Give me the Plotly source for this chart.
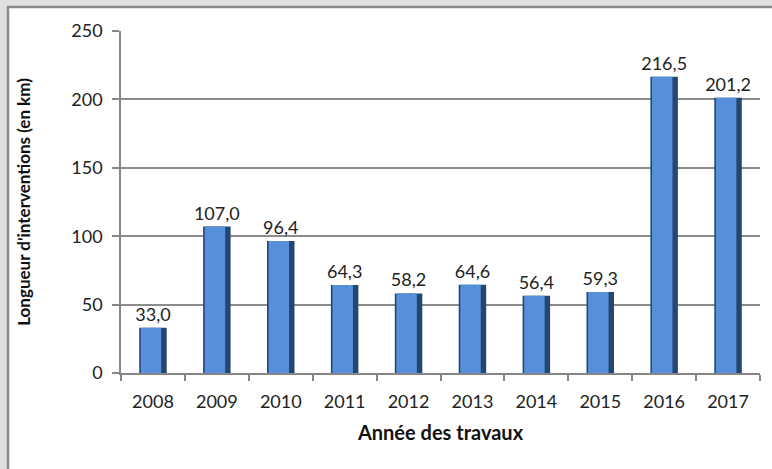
import plotly.graph_objects as go

years = ["2008", "2009", "2010", "2011", "2012", "2013", "2014", "2015", "2016", "2017"]
lengths_km = [33.0, 107.0, 96.4, 64.3, 58.2, 64.6, 56.4, 59.3, 216.5, 201.2]
labels = [f"{v:.1f}".replace(".", ",") for v in lengths_km]

W, H = 772, 469
L, R, T, B = 121, 12, 31, 96
pw, ph = W - L - R, H - T - B

FONT = "Lato, 'Open Sans', sans-serif"

fig = go.Figure()
# dark body of each bar (edges)
fig.add_trace(go.Bar(
    x=years, y=lengths_km, width=0.43, offset=-0.215,
    marker=dict(color="#25466f", line=dict(width=0)),
    text=labels, textposition="outside", cliponaxis=False, constraintext="none",
    textfont=dict(family=FONT, size=18, color="#222222"),
    hoverinfo="skip", showlegend=False,
))
# lighter face
fig.add_trace(go.Bar(
    x=years, y=lengths_km, width=0.32, offset=-0.19,
    marker=dict(color="#5690da", line=dict(width=0)),
    hoverinfo="x+y", showlegend=False,
))

# white panel with grey border
fig.add_shape(type="rect", xref="paper", yref="paper", layer="below",
              x0=(8 - L) / pw, x1=(W + 20 - L) / pw,
              y0=-(H + 20 - (H - B)) / ph, y1=(H - B - 7) / ph,
              fillcolor="white", line=dict(color="#8a8a8a", width=2.5))

fig.update_layout(
    width=W, height=H,
    margin=dict(l=L, r=R, t=T, b=B, autoexpand=False),
    paper_bgcolor="#e0e0e0", plot_bgcolor="rgba(0,0,0,0)",
    barmode="overlay", showlegend=False,
    font=dict(family=FONT, size=18, color="#222222"),
)
fig.update_xaxes(
    type="category", showgrid=False, showline=True, linecolor="#868686", linewidth=1.5,
    ticks="outside", tickson="boundaries", ticklen=6, tickcolor="#868686", tickwidth=1.5,
    ticklabelstandoff=12,
    tickfont=dict(family=FONT, size=18, color="#222222"), automargin=False,
    title=dict(text="<b>Année des travaux</b>", font=dict(family=FONT, size=20, color="#111111"), standoff=15),
)
fig.update_yaxes(
    range=[0, 250], dtick=50, showgrid=True, gridcolor="#8c8c8c", gridwidth=1.5,
    showline=True, linecolor="#868686", linewidth=1.5, zeroline=False,
    ticks="outside", ticklen=7, tickcolor="#868686", tickwidth=1.5,
    ticklabelstandoff=6,
    tickfont=dict(family=FONT, size=18, color="#222222"), automargin=False,
    title=dict(text="<b>Longueur d'interventions (en km)</b>", font=dict(family=FONT, size=17, color="#111111"), standoff=36),
)

fig.write_html("out.html", config={"displayModeBar": False},
               post_script="document.body.style.margin='0';")
